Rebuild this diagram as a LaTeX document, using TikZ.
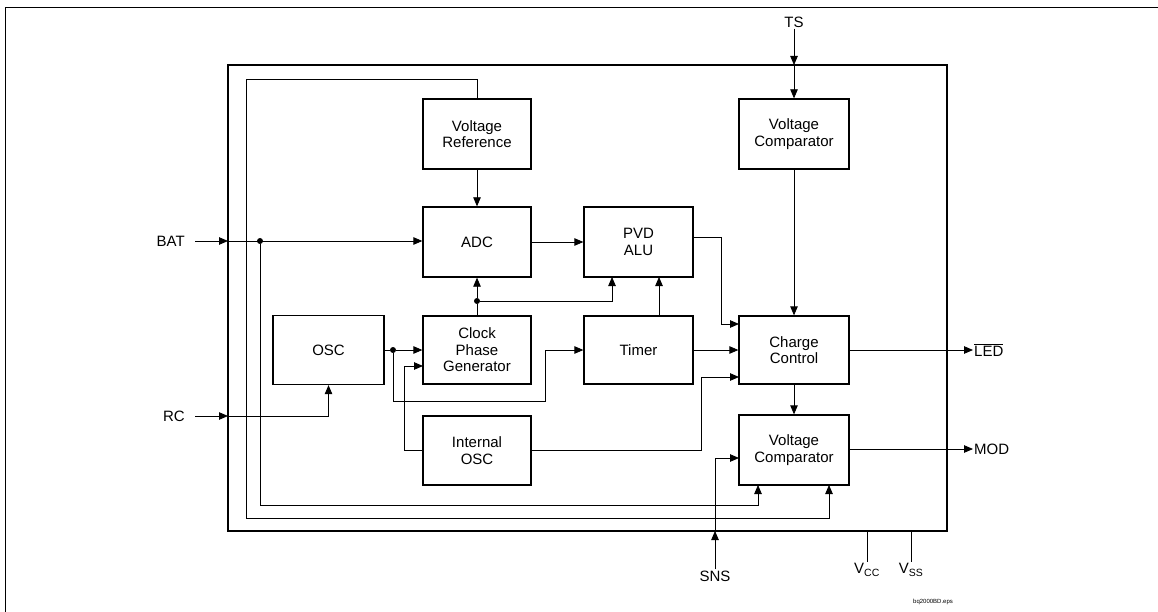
\documentclass[tikz,border=0pt]{standalone}
\usepackage{fontspec}
\setmainfont{Liberation Sans}
\usetikzlibrary{arrows.meta}
\begin{document}
\begin{tikzpicture}[x=1pt,y=-1pt,
  blk/.style={draw,line width=1.3pt,align=center,inner sep=0pt,font=\fontsize{15}{16.5}\selectfont},
  wire/.style={line width=0.8pt},
  arr/.style={wire,-{Triangle[length=9pt,width=7.5pt]}},
  dot/.style={circle,fill,inner sep=0pt,minimum size=6pt},
  lbl/.style={font=\fontsize{15}{17}\selectfont,inner sep=1pt}]
\useasboundingbox (0,0) rectangle (1158,612);
% outer page frame
\draw[line width=0.8pt] (5,612) -- (5,7) -- (1158,7);
% chip outline
\draw[line width=2.2pt] (228,65) rectangle (947,531);
% blocks
\node[blk,minimum width=108pt,minimum height=70pt] (vr)    at (477,134)   {Voltage\\Reference};
\node[blk,minimum width=108pt,minimum height=70pt] (adc)   at (477,242)   {ADC};
\node[blk,minimum width=109pt,minimum height=70pt] (pvd)   at (638.5,242) {PVD\\ALU};
\node[blk,minimum width=111pt,minimum height=69pt] (osc)   at (328.5,350) {OSC};
\node[blk,minimum width=108pt,minimum height=68pt] (cpg)   at (477,350)   {Clock\\Phase\\Generator};
\node[blk,minimum width=109pt,minimum height=68pt] (timer) at (638.5,350) {Timer};
\node[blk,minimum width=108pt,minimum height=69pt] (iosc)  at (477,450.5) {Internal\\OSC};
\node[blk,minimum width=110pt,minimum height=70pt] (vc1)   at (794,134)   {Voltage\\Comparator};
\node[blk,minimum width=110pt,minimum height=68pt] (cc)    at (794,350)   {Charge\\Control};
\node[blk,minimum width=110pt,minimum height=70pt] (vc2)   at (794,450)   {Voltage\\Comparator};
% pin labels
\node[lbl,anchor=east] (bat) at (186,241) {BAT};
\node[lbl,anchor=east] (rc)  at (186,416) {RC};
\node[lbl] (ts)  at (794,22)  {TS};
\node[lbl] (sns) at (715,576) {SNS};
\node[lbl] (vcc) at (867,570) {V\textsubscript{CC}};
\node[lbl] (vss) at (911,570) {V\textsubscript{SS}};
\node[lbl,anchor=west] (led) at (973,350) {$\overline{\hbox{LED}}$};
\node[lbl,anchor=west] (mod) at (973,449) {MOD};
\node[font=\fontsize{6}{7}\selectfont] (fname) at (933,602) {bq2000BD.eps};
% pin points on chip edge
\coordinate (pbat) at (228,241);
\coordinate (prc)  at (228,416);
\coordinate (pts)  at (794,65);
\coordinate (psns) at (715,531);
\coordinate (pvcc) at (867,531);
\coordinate (pvss) at (911,531);
% dots
\node[dot] (dbat) at (260,241) {};
\node[dot] (dclk) at (477,301) {};
\node[dot] (dosc) at (393,350) {};
% bend coordinates
\coordinate (vrtop) at (477,79);
\coordinate (lft1)  at (246,79);
\coordinate (lft1b) at (246,518);
\coordinate (vc2r)  at (829,485);
\coordinate (batb)  at (260,505);
\coordinate (vc2l)  at (758,485);
\coordinate (pvdl)  at (612,277);
\coordinate (pvdr)  at (659,277);
\coordinate (timt)  at (659,316);
\coordinate (tmb)   at (545,401);
\coordinate (ioscl) at (404,366);
\coordinate (cpgl2) at (423,366);
\coordinate (ioscr) at (701,377);
\coordinate (ccl3)  at (739,377);
\coordinate (pvdo)  at (693,237);
\coordinate (pvdb)  at (721,237);
\coordinate (ccl1)  at (739,324);
\coordinate (snsy)  at (739,458);
% connectors
\draw[arr] ([xshift=9pt]bat.east) -- (pbat);
\draw[arr] (pbat) -- (pbat -| adc.west);
\draw[arr] (dbat) -- (batb) -| (vc2l);
\draw[arr] (vr.north) -- (vrtop) -- (lft1) -- (lft1b) -| (vc2r);
\draw[arr] (vr) -- (adc);
\draw[arr] (adc) -- (pvd);
\draw[wire] (cpg.north) -- (dclk);
\draw[arr] (dclk) -- (adc.south);
\draw[arr] (dclk) -| (pvdl);
\draw[arr] (timt) -- (pvdr);
\draw[wire] (osc.east) -- (dosc);
\draw[arr] (dosc) -- (cpg.west);
\draw[arr] (dosc) |- (tmb) |- (timer.west);
\draw[arr] (iosc.west) -| (ioscl) -- (cpgl2);
\draw[arr] (iosc.east) -| (ioscr) -- (ccl3);
\draw[arr] (pvdo) -- (pvdb) |- (ccl1);
\draw[arr] (timer) -- (cc);
\draw[arr] ([xshift=9pt]rc.east) -- (prc);
\draw[arr] (prc) -| (osc.south);
\draw[arr] (ts.south) -- (pts);
\draw[arr] (pts) -- (vc1.north);
\draw[arr] (vc1) -- (cc);
\draw[arr] (cc) -- (vc2);
\draw[arr] (cc.east) -- (led.west);
\draw[arr] (vc2.east |- mod.west) -- (mod.west);
\draw[arr] (sns.north) -- (psns);
\draw[arr] (psns) |- (snsy);
\draw[wire] (pvcc) -- (vcc.north);
\draw[wire] (pvss) -- (vss.north);
\end{tikzpicture}
\end{document}
